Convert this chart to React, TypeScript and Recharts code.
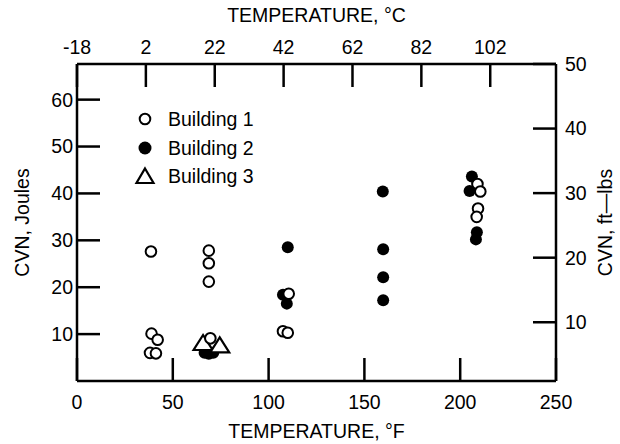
import { Legend, Scatter, ScatterChart, XAxis, YAxis } from "recharts";

// temperature in °F, CVN in Joules
const B1_TEMP = [38.6, 38.9, 42.1, 38.1, 41.2, 68.8, 68.8, 68.8, 69.6, 110.5, 107.5, 110.0, 209.0, 210.5, 209.3, 208.6];
const B1_CVN  = [27.6, 10.1, 8.8, 6.0, 5.9, 27.8, 25.1, 21.2, 9.1, 18.6, 10.6, 10.3, 42.0, 40.4, 36.8, 35.0];

const B2_TEMP = [66.6, 68.8, 71.1, 110.0, 107.5, 109.5, 159.6, 159.8, 159.8, 159.8, 206.1, 204.9, 208.7, 208.2];
const B2_CVN  = [6.0, 5.8, 6.0, 28.5, 18.4, 16.5, 40.4, 28.1, 22.1, 17.2, 43.6, 40.5, 31.7, 30.2];

const B3_TEMP = [65.8, 74.5];
const B3_CVN  = [8.1, 7.6];

const F_TICKS = [0, 50, 100, 150, 200, 250];
const C_TICKS = [-18, 2, 22, 42, 62, 82, 102];
const J_TICKS = [10, 20, 30, 40, 50, 60];
const FTLB_TICKS = [10, 20, 30, 40, 50];

const SERIES_NAMES = ["Building 1", "Building 2", "Building 3"];

const FONT = "'Liberation Sans', Arial, Helvetica, sans-serif";
const FS = 19.5;
const INK = "#000";
const TICK_LEN = 23;

const toPoints = (xs: number[], ys: number[]) => xs.map((x, i) => ({ x, y: ys[i] }));
// same points in °C / ft-lbs, only so the top and right axes get ticks
const toMetricPoints = (xs: number[], ys: number[]) =>
  xs.map((x, i) => ({ x: ((x - 32) * 5) / 9, y: ys[i] / 1.3558 }));

const openDot = (p: any) => <circle cx={p.cx} cy={p.cy} r={5.3} fill="#fff" stroke={INK} strokeWidth={2} />;
const filledDot = (p: any) => <circle cx={p.cx} cy={p.cy} r={6} fill={INK} />;
const triangle = (p: any) => (
  <path d={`M${p.cx},${p.cy - 8} L${p.cx + 9.5},${p.cy + 7} L${p.cx - 9.5},${p.cy + 7} Z`} fill="#fff" stroke={INK} strokeWidth={2.2} />
);
const nothing = () => <g />;

// x-axis ticks point into the plot; draw the line with the label
const BOTTOM_MARGIN = 14;
const TOP_MARGIN = 10;
function BottomTick({ x, y, payload }: any) {
  const base = y - BOTTOM_MARGIN;
  return (
    <g>
      <line x1={x} x2={x} y1={base} y2={base - TICK_LEN} stroke={INK} strokeWidth={2.5} />
      <text x={x} y={y} dy="0.71em" textAnchor="middle" fontFamily={FONT} fontSize={FS} fill={INK}>{payload.value}</text>
    </g>
  );
}
function TopTick({ x, y, payload }: any) {
  const base = y + TOP_MARGIN;
  return (
    <g>
      <line x1={x} x2={x} y1={base} y2={base + TICK_LEN} stroke={INK} strokeWidth={2.5} />
      <text x={x} y={y} textAnchor="middle" fontFamily={FONT} fontSize={FS} fill={INK}>{payload.value}</text>
    </g>
  );
}

function HTitle({ viewBox, text, dy }: any) {
  if (!viewBox) return null;
  return (
    <text x={viewBox.x + viewBox.width / 2} y={viewBox.y + dy} textAnchor="middle" dominantBaseline="central"
      fontFamily={FONT} fontSize={FS} fill={INK}>{text}</text>
  );
}

function VTitle({ viewBox, text, dx }: any) {
  if (!viewBox) return null;
  const x = viewBox.x + dx;
  const y = viewBox.y + viewBox.height / 2;
  return (
    <text x={x} y={y} transform={`rotate(-90, ${x}, ${y})`} textAnchor="middle" dominantBaseline="central"
      fontFamily={FONT} fontSize={FS} fill={INK}>{text}</text>
  );
}

function LegendMarker({ i }: { i: number }) {
  return (
    <svg width={22} height={20} style={{ display: "block" }}>
      {i === 0 && <circle cx={11} cy={10} r={5.3} fill="#fff" stroke={INK} strokeWidth={2} />}
      {i === 1 && <circle cx={11} cy={10} r={6.5} fill={INK} />}
      {i === 2 && <path d="M11,2.5 L19.5,17 L2.5,17 Z" fill="#fff" stroke={INK} strokeWidth={2.2} />}
    </svg>
  );
}

function BuildingLegend() {
  return (
    <div style={{ fontFamily: FONT, fontSize: FS, color: INK }}>
      {SERIES_NAMES.map((name, i) => (
        <div key={name} style={{ display: "flex", alignItems: "center", height: 28.4 }}>
          <LegendMarker i={i} />
          <span style={{ marginLeft: 12, lineHeight: "20px" }}>{name}</span>
        </div>
      ))}
    </div>
  );
}

const tickStyle = { fill: INK, fontSize: FS, fontFamily: FONT };
const lineStyle = { stroke: INK, strokeWidth: 2.5 };

export default function App() {
  return (
    <div style={{ position: "absolute", left: 0, top: 0, width: 620, height: 444, background: "#fff" }}>
      <ScatterChart width={620} height={444} margin={{ top: 0, right: 0, bottom: 0, left: 0 }}>
        <XAxis xAxisId="f" type="number" dataKey="x" orientation="bottom" domain={[0, 250]} ticks={F_TICKS}
          interval={0} height={63} tickSize={0} tickMargin={BOTTOM_MARGIN} tick={<BottomTick />}
          axisLine={lineStyle} tickLine={false}
          label={<HTitle text="TEMPERATURE, °F" dy={50} />} />
        <XAxis xAxisId="c" type="number" dataKey="x" orientation="top" domain={[-18, 121.1]} ticks={C_TICKS}
          allowDataOverflow interval={0} height={64} tickSize={0} tickMargin={TOP_MARGIN} tick={<TopTick />}
          axisLine={lineStyle} tickLine={false}
          label={<HTitle text="TEMPERATURE, °C" dy={15} />} />
        <YAxis yAxisId="j" type="number" dataKey="y" orientation="left" domain={[0, 67.6]} ticks={J_TICKS}
          interval={0} width={77} tickSize={-TICK_LEN} tickMargin={27} tick={tickStyle}
          axisLine={lineStyle} tickLine={lineStyle}
          label={<VTitle text="CVN, Joules" dx={22} />} />
        <YAxis yAxisId="ft" type="number" dataKey="y" orientation="right" domain={[0.9, 50]} ticks={FTLB_TICKS}
          allowDataOverflow interval={0} width={64} tickSize={-TICK_LEN} tickMargin={32} tick={tickStyle}
          axisLine={lineStyle} tickLine={lineStyle}
          label={<VTitle text="CVN, ft—lbs" dx={49} />} />
        <Legend layout="vertical" align="center" verticalAlign="middle" content={<BuildingLegend />}
          wrapperStyle={{ position: "absolute", left: 134, top: 105, width: "auto" }} />
        <Scatter name="metric" xAxisId="c" yAxisId="ft" data={toMetricPoints(B1_TEMP, B1_CVN)} shape={nothing}
          legendType="none" isAnimationActive={false} />
        <Scatter name="Building 2" xAxisId="f" yAxisId="j" data={toPoints(B2_TEMP, B2_CVN)} shape={filledDot} isAnimationActive={false} />
        <Scatter name="Building 3" xAxisId="f" yAxisId="j" data={toPoints(B3_TEMP, B3_CVN)} shape={triangle} isAnimationActive={false} />
        <Scatter name="Building 1" xAxisId="f" yAxisId="j" data={toPoints(B1_TEMP, B1_CVN)} shape={openDot} isAnimationActive={false} />
      </ScatterChart>
    </div>
  );
}
